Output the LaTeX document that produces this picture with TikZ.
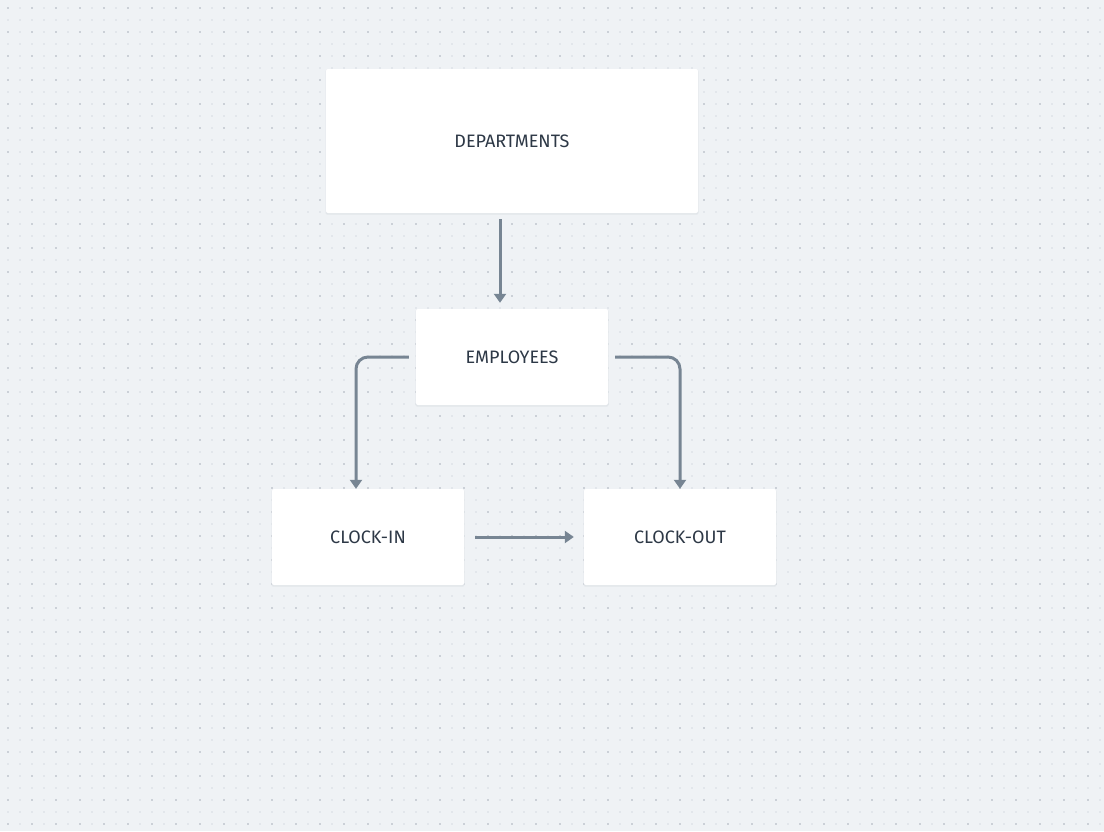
\documentclass[tikz,border=0pt]{standalone}
\usepackage{fontspec}
\setmainfont{Fira Sans}
\usetikzlibrary{arrows.meta,calc}
\definecolor{bg}{HTML}{EFF2F5}
\definecolor{dotl}{HTML}{E2E6EB}
\definecolor{dotd}{HTML}{CBD0D7}
\definecolor{edge}{HTML}{778593}
\definecolor{txt}{HTML}{2D3846}
\definecolor{shad}{HTML}{E2E6EA}
\tikzset{
  box/.style={fill=white, rounded corners=2pt, inner sep=0pt, text=txt,
    font=\fontsize{18}{21}\selectfont},
  conn/.style={draw=edge, line width=3pt, rounded corners=12pt,
    -{Triangle[width=12pt,length=9pt]}},
}
\begin{document}
\begin{tikzpicture}[x=1pt,y=-1pt]
\useasboundingbox (0,0) rectangle (1104,831);
\fill[bg] (0,0) rectangle (1104,831);
\foreach \i in {0,...,91}{
  \foreach \j in {0,...,69}{
    \fill[dotl] ({8+12*\i-0.75},{8+12*\j-0.75}) rectangle ++(1.5,1.5);
  }
}
\foreach \i in {0,...,45}{
  \foreach \j in {0,...,34}{
    \fill[dotd] ({8+24*\i-0.75},{8+24*\j-0.75}) rectangle ++(1.5,1.5);
  }
}
% shadows
\foreach \x/\y/\w/\h in {326/69/372/144, 416/309/192/96, 272/489/192/96, 584/489/192/96}{
  \fill[shad, rounded corners=2pt] (\x-0.5,\y+0.5) rectangle ++(\w+1,\h+1.2);
}
\node[box, minimum width=372pt, minimum height=144pt] (dep) at (512,141) {DEPARTMENTS};
\node[box, minimum width=192pt, minimum height=96pt] (emp) at (512,357) {EMPLOYEES};
\node[box, minimum width=192pt, minimum height=96pt] (cin) at (368,537) {CLOCK-IN};
\node[box, minimum width=192pt, minimum height=96pt] (cout) at (680,537) {CLOCK-OUT};

\draw[conn] ($(dep.south)+(-12,6)$) -- ($(emp.north)+(-12,-6)$);
\draw[conn] ($(emp.west)+(-7,0)$) -| ($(cin.north)+(-12,0)$);
\draw[conn] ($(emp.east)+(7,0)$) -| (cout.north);
\draw[conn] ($(cin.east)+(11,0)$) -- ($(cout.west)+(-10,0)$);
\end{tikzpicture}
\end{document}
